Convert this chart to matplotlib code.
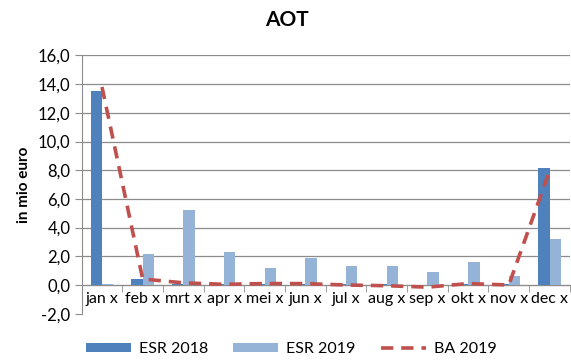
import matplotlib
matplotlib.use("Agg")
import matplotlib.pyplot as plt
import numpy as np
from matplotlib.ticker import FixedLocator, FuncFormatter

months = ["jan x", "feb x", "mrt x", "apr x", "mei x", "jun x", "jul x",
          "aug x", "sep x", "okt x", "nov x", "dec x"]
esr2018 = [13.5, 0.45, 0.05, 0.05, 0.1, 0.05, 0.05, 0.05, 0.0, 0.05, 0.05, 8.15]
esr2019 = [0.05, 2.15, 5.25, 2.3, 1.18, 1.87, 1.33, 1.33, 0.9, 1.63, 0.6, 3.18]
ba2019 = [13.8, 0.42, 0.15, 0.05, 0.1, 0.1, 0.0, -0.05, -0.15, 0.1, 0.0, 7.95]

plt.rcParams['font.family'] = ['Lato', 'DejaVu Sans']

fig = plt.figure(figsize=(5.71, 3.6), dpi=100)
ax = fig.add_axes([0.143, 0.1286, 0.855, 0.7174])

x = np.arange(len(months))
w = 0.28
c_dark = '#4F81BD'
c_light = '#95B3D7'
c_red = '#C0504D'
grid_c = '#8C8C8C'

b1 = ax.bar(x - w/2, esr2018, width=w, color=c_dark, label='ESR 2018', zorder=3)
b2 = ax.bar(x + w/2, esr2019, width=w, color=c_light, label='ESR 2019', zorder=3)
l1, = ax.plot(x, ba2019, color=c_red, linestyle=(0, (3.4, 2.2)), linewidth=2.6,
              label='BA 2019', zorder=4)

ax.set_xlim(-0.5, len(months) - 0.5)
ax.set_ylim(-2, 16)
ax.set_yticks(np.arange(-2, 16.1, 2))
ax.yaxis.set_major_formatter(FuncFormatter(lambda v, p: f"{v:.1f}".replace('.', ',')))
for yv in np.arange(0, 16.1, 2):
    ax.axhline(yv, color=grid_c, linewidth=0.9, zorder=1)

for s in ['top', 'right']:
    ax.spines[s].set_visible(False)
ax.spines['left'].set_color(grid_c)
ax.spines['bottom'].set_color(grid_c)
ax.spines['bottom'].set_position(('data', 0))

ax.set_xticks(x)
ax.set_xticklabels(months, fontsize=11.5)
ax.xaxis.set_minor_locator(FixedLocator(np.arange(0.5, len(months) - 0.4, 1)))
ax.tick_params(axis='x', which='major', length=0, pad=5)
ax.tick_params(axis='x', which='minor', length=5, color=grid_c)
ax.tick_params(axis='y', length=5, color=grid_c, labelsize=12, pad=3)

ax.set_ylabel('in mio euro', fontsize=11, fontweight='bold', labelpad=5)
fig.text(0.503, 0.945, 'AOT', ha='center', va='center', fontsize=15, fontweight='bold')

fig.legend(handles=[b1, b2, l1], labels=['ESR 2018', 'ESR 2019', 'BA 2019'],
           loc='center', bbox_to_anchor=(0.51, 0.03), ncol=3, frameon=False,
           fontsize=11.5, handlelength=2.8, handleheight=0.5, columnspacing=1.6,
           handletextpad=0.5)

fig.savefig('out.png', dpi=100)
